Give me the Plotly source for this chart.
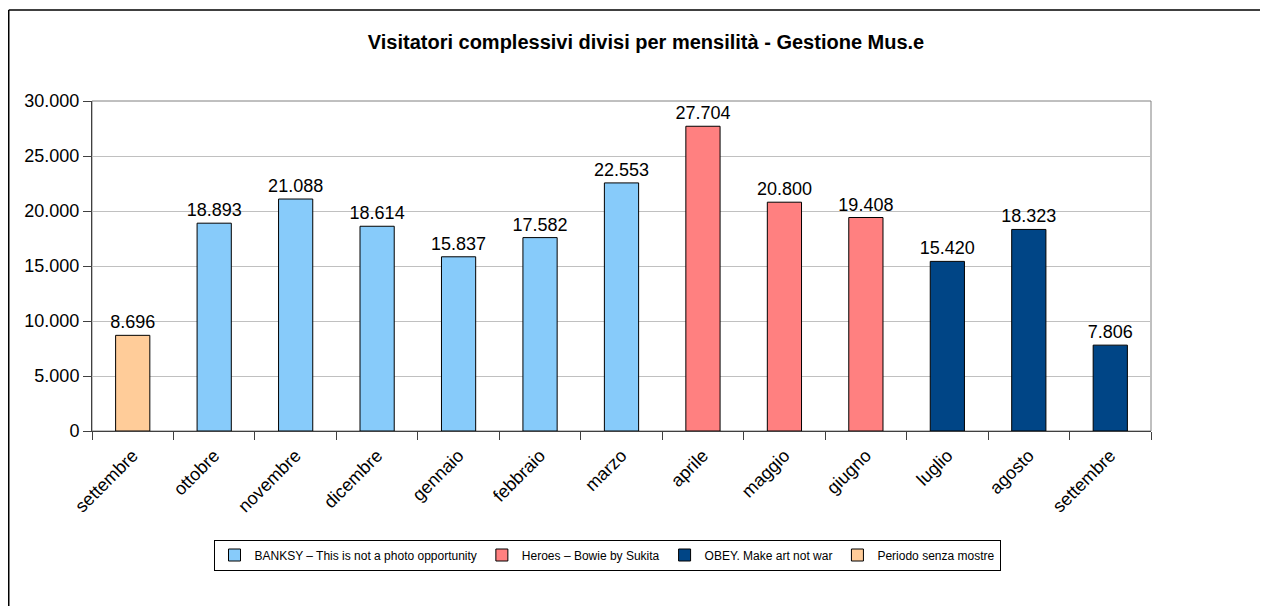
import plotly.graph_objects as go

months = ["settembre", "ottobre", "novembre", "dicembre", "gennaio", "febbraio",
          "marzo", "aprile", "maggio", "giugno", "luglio", "agosto", "settembre"]
visitors = [8696, 18893, 21088, 18614, 15837, 17582, 22553, 27704, 20800, 19408, 15420, 18323, 7806]
groups = ["Periodo senza mostre", "BANKSY", "BANKSY", "BANKSY", "BANKSY", "BANKSY", "BANKSY",
          "Heroes", "Heroes", "Heroes", "OBEY", "OBEY", "OBEY"]

series_names = {
    "BANKSY": "BANKSY \u2013 This is not a photo opportunity",
    "Heroes": "Heroes \u2013 Bowie by Sukita",
    "OBEY": "OBEY. Make art not war",
    "Periodo senza mostre": "Periodo senza mostre",
}
series_colors = {
    "BANKSY": "#87CBFA",
    "Heroes": "#FF8080",
    "OBEY": "#004586",
    "Periodo senza mostre": "#FFCC99",
}
y_ticks = [0, 5000, 10000, 15000, 20000, 25000, 30000]

FONT = "Liberation Sans, Arial, sans-serif"

# page is offset by ~8px (body margin); layout numbers below are in figure pixels
L, R, T, B = 84, 1143, 93, 423
W, H = 1268, 606
PW, PH = R - L, B - T

def px_x(x):
    return (x - L) / PW

def px_y(y):
    return (B - y) / PH

fig = go.Figure()
for key in ["BANKSY", "Heroes", "OBEY", "Periodo senza mostre"]:
    idx = [i for i, g in enumerate(groups) if g == key]
    fig.add_trace(go.Bar(
        x=idx, y=[visitors[i] for i in idx],
        name=series_names[key],
        marker=dict(color=series_colors[key], line=dict(color="#000000", width=1)),
        width=0.42,
        texttemplate="%{y:,d}", textposition="outside", constraintext="none",
        textfont=dict(size=18, color="#000000", family=FONT),
        cliponaxis=False,
        hoverinfo="x+y",
    ))

fig.update_layout(
    width=W, height=H,
    margin=dict(l=L, r=W - R, t=T, b=H - B),
    paper_bgcolor="white", plot_bgcolor="white",
    separators=",.",
    barmode="overlay",
    font=dict(family=FONT, color="#000000"),
    title=dict(text="<b>Visitatori complessivi divisi per mensilità - Gestione Mus.e</b>",
               x=(646 - 8) / W, xanchor="center", xref="container",
               y=1 - (42 - 8) / H, yanchor="middle", yref="container",
               font=dict(size=20, family=FONT, color="#000000")),
    showlegend=True,
    legend=dict(orientation="h", x=px_x(607 - 8), xanchor="center", xref="paper",
                y=px_y(555 - 8), yanchor="middle", yref="paper",
                bordercolor="#000000", borderwidth=1,
                font=dict(size=12, family=FONT, color="#000000"),
                itemwidth=30, traceorder="normal"),
    xaxis=dict(range=[-0.5, 12.5], tickmode="array",
               tickvals=list(range(len(months))), ticktext=months,
               tickangle=-45, ticks="", showgrid=False, zeroline=False,
               ticklabelstandoff=6,
               showline=True, linecolor="#404040", linewidth=1,
               tickfont=dict(size=18, family=FONT, color="#000000"),
               minor=dict(tickmode="array", tickvals=[i - 0.5 for i in range(len(months) + 1)],
                          ticks="outside", ticklen=8, tickcolor="#404040", showgrid=False)),
    yaxis=dict(range=[0, 30000], tickmode="array", tickvals=y_ticks,
               tickformat=",d", ticks="outside", ticklen=8, tickcolor="#404040",
               showgrid=True, gridcolor="#C0C0C0", gridwidth=1, zeroline=False,
               showline=True, linecolor="#404040", linewidth=1,
               tickfont=dict(size=18, family=FONT, color="#000000")),
    shapes=[
        dict(type="rect", xref="paper", yref="paper", x0=0, x1=1, y0=0, y1=1,
             line=dict(color="#808080", width=1), layer="below"),
        dict(type="line", xref="paper", yref="paper",
             x0=px_x(0.75), x1=px_x(W + 20), y0=px_y(2), y1=px_y(2),
             line=dict(color="#000000", width=1.5)),
        dict(type="line", xref="paper", yref="paper",
             x0=px_x(0.75), x1=px_x(0.75), y0=px_y(2), y1=px_y(H + 20),
             line=dict(color="#000000", width=1.5)),
    ],
)

fig.write_html("out.html")
